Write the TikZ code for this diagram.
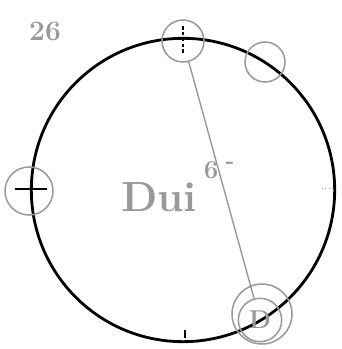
\documentclass[tikz,border=0pt]{standalone}
\usepackage{tikz}
\usepackage{xcolor}
\definecolor{pencil}{gray}{0.6}

\begin{document}
\begin{tikzpicture}[
  x=0.03cm, y=-0.03cm,
  rim/.style={circle,draw=black,line width=2.4pt,inner sep=0pt,minimum size=9.1cm},
  marker/.style={circle,draw=pencil,line width=1.3pt,inner sep=0pt,minimum size=1.26cm},
  tick/.style={black,line width=0.9pt},
  scrawl/.style={text=pencil,inner sep=0pt}
]
  \useasboundingbox (0,0) rectangle (341,349);
  \node[rim] (rim) at (183,190) {};
  \node[marker] (top) at (183,41) {};
  \node[marker,minimum size=1.2cm] (rt) at (265,62) {};
  \node[marker,minimum size=1.44cm] (lft) at (29,191) {};
  \node[marker,minimum size=1.8cm] (ring) at (262,314) {};
  \node[marker,minimum size=1.3cm,font=\bfseries\fontsize{22}{24}\selectfont,text=pencil] (d) at (260,320) {D};
  \draw[pencil,line width=1.2pt] (top) -- (d);
  \draw[tick,densely dashed] (183,26) -- (183,54);
  \draw[tick] (15,189) -- (47,189);
  \draw[pencil,dotted,line width=0.8pt] (322,188) -- (332,188);
  \draw[tick] (185,330) -- (185,338);
  \node[scrawl,font=\bfseries\fontsize{24}{26}\selectfont] (num) at (45,31) {26};
  \node[scrawl,font=\bfseries\fontsize{36}{44}\selectfont] (dui) at (159,197) {Dui};
  \node[scrawl,font=\bfseries\fontsize{22}{25}\selectfont] (six) at (211,170) {6};
  \node[scrawl,font=\bfseries\fontsize{20}{22}\selectfont] (bar) at (230,165) {-};
\end{tikzpicture}
\end{document}
